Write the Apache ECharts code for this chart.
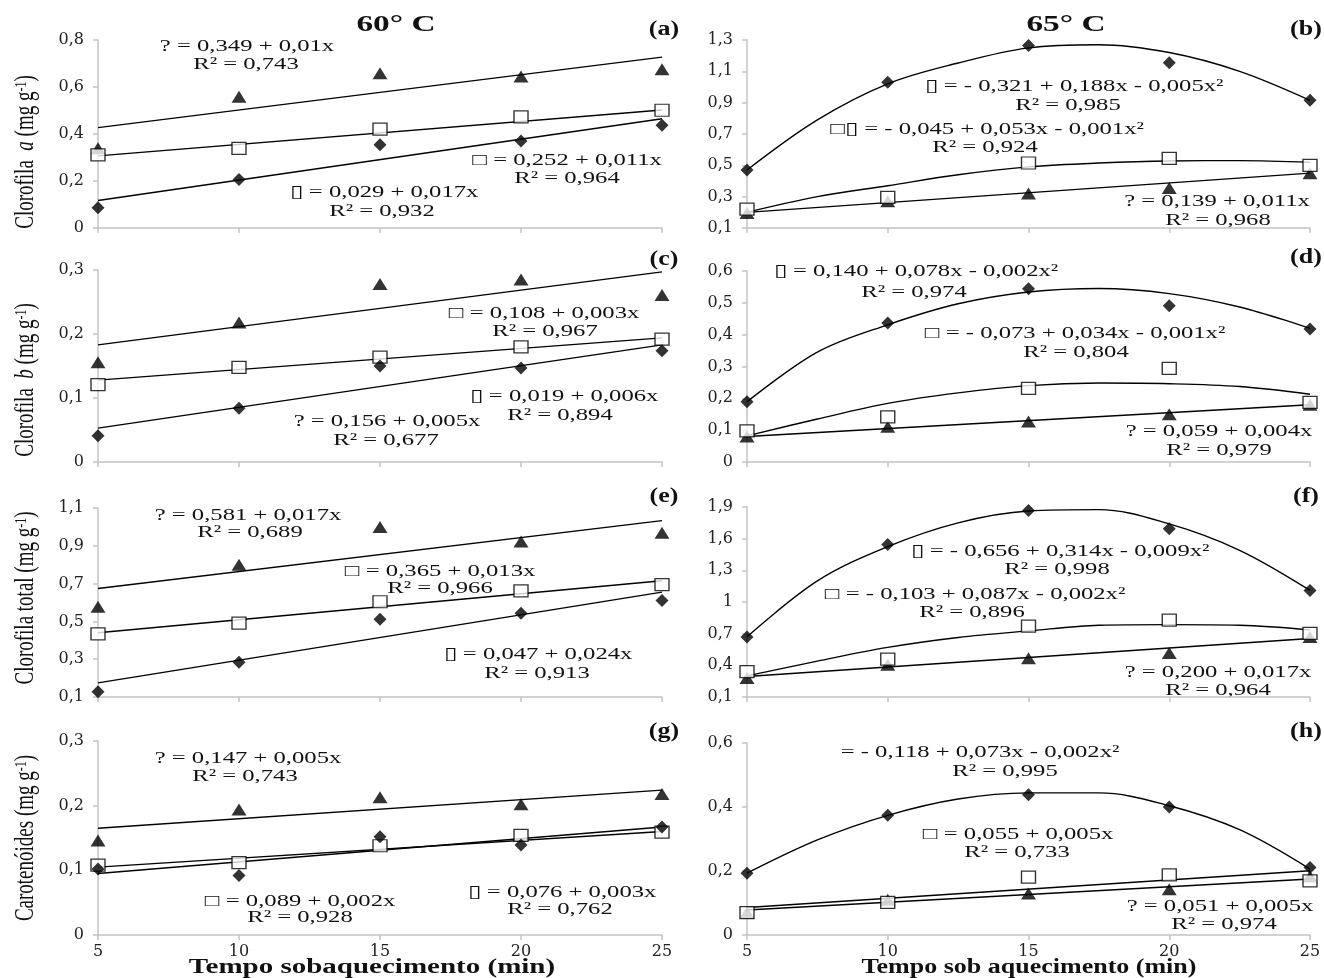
<!DOCTYPE html>
<html>
<head>
<meta charset="utf-8">
<script src="https://cdn.jsdelivr.net/npm/echarts@6/dist/echarts.min.js"></script>
<style>
html, body { margin: 0; padding: 0; background: #fff; }
#container { width: 1324px; height: 978px; }
</style>
</head>
<body>
<div id="container"></div>
<script>
// tempo (min)
var xValues = [5, 10, 15, 20, 25];
var lineX = [5, 25];
var curveX = [5, 7.5, 10, 12.5, 15, 17.5, 20, 22.5, 25];

// (a) clorofila a, 60 C
var aTicks = [0, 0.2, 0.4, 0.6, 0.8];
var aDiamond = [0.086, 0.206, 0.354, 0.370, 0.437];
var aSquare = [0.311, 0.339, 0.421, 0.473, 0.501];
var aTriangle = [0.339, 0.558, 0.659, 0.645, 0.676];
var aFitDiamond = [0.117, 0.465];
var aFitSquare = [0.307, 0.502];
var aFitTriangle = [0.427, 0.727];

// (b) clorofila a, 65 C
var bTicks = [0.1, 0.3, 0.5, 0.7, 0.9, 1.1, 1.3];
var bDiamond = [0.47, 1.03, 1.265, 1.155, 0.915];
var bSquare = [0.22, 0.295, 0.515, 0.545, 0.50];
var bTriangle = [0.195, 0.27, 0.32, 0.355, 0.45];
var bFitDiamond = [0.47, 0.79, 1.02, 1.153, 1.25, 1.27, 1.22, 1.10, 0.915];
var bFitSquare = [0.20, 0.30, 0.37, 0.44, 0.49, 0.515, 0.528, 0.53, 0.52];
var bFitTriangle = [0.20, 0.45];

// (c) clorofila b, 60 C
var cTicks = [0, 0.1, 0.2, 0.3];
var cDiamond = [0.041, 0.084, 0.150, 0.147, 0.174];
var cSquare = [0.121, 0.148, 0.164, 0.180, 0.192];
var cTriangle = [0.156, 0.218, 0.278, 0.285, 0.261];
var cFitDiamond = [0.053, 0.183];
var cFitSquare = [0.128, 0.194];
var cFitTriangle = [0.183, 0.297];

// (d) clorofila b, 65 C
var dTicks = [0, 0.1, 0.2, 0.3, 0.4, 0.5, 0.6];
var dDiamond = [0.189, 0.437, 0.544, 0.491, 0.418];
var dSquare = [0.098, 0.142, 0.231, 0.294, 0.187];
var dTriangle = [0.080, 0.111, 0.127, 0.150, 0.180];
var dFitDiamond = [0.189, 0.345, 0.431, 0.497, 0.534, 0.545, 0.529, 0.487, 0.420];
var dFitSquare = [0.082, 0.135, 0.184, 0.217, 0.240, 0.248, 0.246, 0.237, 0.213];
var dFitTriangle = [0.080, 0.180];

// (e) clorofila total, 60 C
var eTicks = [0.1, 0.3, 0.5, 0.7, 0.9, 1.1];
var eDiamond = [0.128, 0.284, 0.512, 0.543, 0.610];
var eSquare = [0.434, 0.491, 0.604, 0.662, 0.695];
var eTriangle = [0.578, 0.800, 1.000, 0.923, 0.969];
var eFitDiamond = [0.175, 0.655];
var eFitSquare = [0.440, 0.715];
var eFitTriangle = [0.674, 1.033];

// (f) clorofila total, 65 C
var fTicks = [0.1, 0.4, 0.7, 1, 1.3, 1.6, 1.9];
var fDiamond = [0.669, 1.544, 1.866, 1.694, 1.109];
var fSquare = [0.341, 0.459, 0.772, 0.828, 0.703];
var fTriangle = [0.281, 0.406, 0.466, 0.516, 0.669];
var fFitDiamond = [0.67, 1.20, 1.525, 1.75, 1.862, 1.875, 1.74, 1.49, 1.11];
var fFitSquare = [0.30, 0.44, 0.57, 0.664, 0.726, 0.78, 0.786, 0.78, 0.736];
var fFitTriangle = [0.294, 0.654];

// (g) carotenoides, 60 C
var gTicks = [0, 0.1, 0.2, 0.3];
var gDiamond = [0.102, 0.092, 0.152, 0.139, 0.167];
var gSquare = [0.108, 0.112, 0.138, 0.154, 0.159];
var gTriangle = [0.146, 0.194, 0.213, 0.202, 0.218];
var gFitDiamond = [0.095, 0.167];
var gFitSquare = [0.105, 0.160];
var gFitTriangle = [0.165, 0.224];

// (h) carotenoides, 65 C
var hTicks = [0, 0.2, 0.4, 0.6];
var hDiamond = [0.193, 0.374, 0.438, 0.400, 0.211];
var hSquare = [0.070, 0.102, 0.181, 0.188, 0.169];
var hTriangle = [0.070, 0.110, 0.130, 0.143, 0.183];
var hFitDiamond = [0.193, 0.297, 0.374, 0.425, 0.444, 0.444, 0.404, 0.329, 0.206];
var hFitSquare = [0.086, 0.201];
var hFitTriangle = [0.078, 0.175];

var panels = [
    {grid: {left: 98, top: 40, width: 564, height: 188}, ticks: aTicks, d: aDiamond, s: aSquare, t: aTriangle, fd: [lineX, aFitDiamond], fs: [lineX, aFitSquare], ft: [lineX, aFitTriangle]},
    {grid: {left: 747, top: 40, width: 563, height: 188}, ticks: bTicks, d: bDiamond, s: bSquare, t: bTriangle, fd: [curveX, bFitDiamond], fs: [curveX, bFitSquare], ft: [lineX, bFitTriangle]},
    {grid: {left: 98, top: 270, width: 564, height: 192}, ticks: cTicks, d: cDiamond, s: cSquare, t: cTriangle, fd: [lineX, cFitDiamond], fs: [lineX, cFitSquare], ft: [lineX, cFitTriangle]},
    {grid: {left: 747, top: 271, width: 563, height: 191}, ticks: dTicks, d: dDiamond, s: dSquare, t: dTriangle, fd: [curveX, dFitDiamond], fs: [curveX, dFitSquare], ft: [lineX, dFitTriangle]},
    {grid: {left: 98, top: 508, width: 564, height: 189}, ticks: eTicks, d: eDiamond, s: eSquare, t: eTriangle, fd: [lineX, eFitDiamond], fs: [lineX, eFitSquare], ft: [lineX, eFitTriangle]},
    {grid: {left: 747, top: 507, width: 563, height: 190}, ticks: fTicks, d: fDiamond, s: fSquare, t: fTriangle, fd: [curveX, fFitDiamond], fs: [curveX, fFitSquare], ft: [lineX, fFitTriangle]},
    {grid: {left: 98, top: 741, width: 564, height: 194}, ticks: gTicks, d: gDiamond, s: gSquare, t: gTriangle, fd: [lineX, gFitDiamond], fs: [lineX, gFitSquare], ft: [lineX, gFitTriangle]},
    {grid: {left: 747, top: 743, width: 563, height: 192}, ticks: hTicks, d: hDiamond, s: hSquare, t: hTriangle, fd: [curveX, hFitDiamond], fs: [lineX, hFitSquare], ft: [lineX, hFitTriangle]}
];

// equacoes e R2, [texto, x, y]
var eqLabels = [
    ['? = 0,349 + 0,01x', 247, 47], ['R² = 0,743', 246, 65],
    ['□ = 0,252 + 0,011x', 567, 161], ['R² = 0,964', 567, 179],
    ['▯ = 0,029 + 0,017x', 384, 193], ['R² = 0,932', 382, 212],
    ['▯ = - 0,321 + 0,188x - 0,005x²', 1074, 87], ['R² = 0,985', 1068, 106],
    ['□▯ = - 0,045 + 0,053x - 0,001x²', 987, 130], ['R² = 0,924', 985, 148],
    ['? = 0,139 + 0,011x', 1217, 202], ['R² = 0,968', 1218, 221],
    ['□ = 0,108 + 0,003x', 544, 314], ['R² = 0,967', 545, 332],
    ['▯ = 0,019 + 0,006x', 564, 397], ['R² = 0,894', 560, 416],
    ['? = 0,156 + 0,005x', 387, 422], ['R² = 0,677', 386, 441],
    ['▯ = 0,140 + 0,078x - 0,002x²', 916, 272], ['R² = 0,974', 914, 293],
    ['□ = - 0,073 + 0,034x - 0,001x²', 1075, 334], ['R² = 0,804', 1076, 353],
    ['? = 0,059 + 0,004x', 1219, 432], ['R² = 0,979', 1219, 451],
    ['? = 0,581 + 0,017x', 248, 516], ['R² = 0,689', 250, 533],
    ['□ = 0,365 + 0,013x', 440, 572], ['R² = 0,966', 440, 589],
    ['▯ = 0,047 + 0,024x', 538, 655], ['R² = 0,913', 537, 674],
    ['▯ = - 0,656 + 0,314x - 0,009x²', 1060, 552], ['R² = 0,998', 1057, 570],
    ['□ = - 0,103 + 0,087x - 0,002x²', 975, 595], ['R² = 0,896', 972, 613],
    ['? = 0,200 + 0,017x', 1218, 673], ['R² = 0,964', 1218, 691],
    ['? = 0,147 + 0,005x', 248, 759], ['R² = 0,743', 245, 777],
    ['□ = 0,089 + 0,002x', 300, 902], ['R² = 0,928', 300, 918],
    ['▯ = 0,076 + 0,003x', 562, 893], ['R² = 0,762', 560, 910],
    ['= - 0,118 + 0,073x - 0,002x²', 980, 753], ['R² = 0,995', 1005, 772],
    ['□ = 0,055 + 0,005x', 1018, 835], ['R² = 0,733', 1017, 853],
    ['? = 0,051 + 0,005x', 1220, 907], ['R² = 0,974', 1224, 925]
];

var serif = '"Liberation Serif", "Times New Roman", serif';
var STRETCH = 1.45;

function zip(xs, ys) {
    return ys.map(function (y, i) { return [xs[i], y]; });
}
function fmt(v) {
    return String(+(+v).toFixed(2)).replace('.', ',');
}
function txt(x, y, text, font, sx) {
    return {
        type: 'text', x: x, y: y, scaleX: sx || STRETCH, silent: true,
        style: {text: text, font: font, fill: '#111', align: 'center', verticalAlign: 'middle'}
    };
}
function ytitle(x, y, text) {
    return {
        type: 'text', x: x, y: y, rotation: Math.PI / 2, scaleY: STRETCH, silent: true,
        style: {
            text: text, fill: '#111', align: 'center', verticalAlign: 'middle',
            rich: {
                n: {font: '19px ' + serif},
                i: {font: 'italic 19px ' + serif},
                s: {font: '12px ' + serif, verticalAlign: 'top'}
            }
        }
    };
}

var grids = [], xAxes = [], yAxes = [], series = [];
var axisColor = '#c4c4c4';
panels.forEach(function (p, i) {
    var bottom = i >= 6;
    grids.push(p.grid);
    xAxes.push({
        type: 'value', gridIndex: i, min: 5, max: 25, interval: 5,
        axisLine: {lineStyle: {color: axisColor, width: 1.5}},
        axisTick: {show: true, length: 5, lineStyle: {color: axisColor, width: 1.5}},
        axisLabel: {show: bottom, fontFamily: 'DejaVu Serif', fontSize: 16, color: '#222', margin: 9},
        splitLine: {show: false}
    });
    yAxes.push({
        type: 'value', gridIndex: i, min: p.ticks[0], max: p.ticks[p.ticks.length - 1],
        axisLine: {show: true, lineStyle: {color: axisColor, width: 1.5}},
        axisTick: {show: true, length: 5, customValues: p.ticks, lineStyle: {color: axisColor, width: 1.5}},
        axisLabel: {customValues: p.ticks, formatter: fmt, fontFamily: 'DejaVu Serif', fontSize: 16, color: '#222', margin: 14},
        splitLine: {show: false}
    });
    [p.fd, p.fs, p.ft].forEach(function (f) {
        series.push({
            type: 'line', xAxisIndex: i, yAxisIndex: i, data: zip(f[0], f[1]),
            symbol: 'none', smooth: f[0].length > 2 ? 0.35 : false, silent: true, z: 2,
            lineStyle: {color: '#000', width: 1.4}
        });
    });
    series.push({
        type: 'scatter', xAxisIndex: i, yAxisIndex: i, data: zip(xValues, p.t),
        symbol: 'triangle', symbolSize: [15, 12], itemStyle: {color: '#000'}, z: 4
    });
    series.push({
        type: 'scatter', xAxisIndex: i, yAxisIndex: i, data: zip(xValues, p.s),
        symbol: 'rect', symbolSize: [14, 12], itemStyle: {color: '#fff', borderColor: '#000', borderWidth: 1.3}, z: 5
    });
    series.push({
        type: 'scatter', xAxisIndex: i, yAxisIndex: i, data: zip(xValues, p.d),
        symbol: 'diamond', symbolSize: [13, 13], itemStyle: {color: '#000'}, z: 6
    });
});

var graphics = [
    txt(396, 25, '60° C', 'bold 23px ' + serif),
    txt(1066, 25, '65° C', 'bold 23px ' + serif),
    txt(664, 30, '(a)', 'bold 20px ' + serif, 1.3),
    txt(1306, 30, '(b)', 'bold 20px ' + serif, 1.3),
    txt(664, 260, '(c)', 'bold 20px ' + serif, 1.3),
    txt(1306, 258, '(d)', 'bold 20px ' + serif, 1.3),
    txt(664, 497, '(e)', 'bold 20px ' + serif, 1.3),
    txt(1306, 497, '(f)', 'bold 20px ' + serif, 1.3),
    txt(664, 732, '(g)', 'bold 20px ' + serif, 1.3),
    txt(1306, 732, '(h)', 'bold 20px ' + serif, 1.3),
    txt(372, 968, 'Tempo sobaquecimento (min)', 'bold 20px ' + serif, 1.45),
    txt(1029, 968, 'Tempo sob aquecimento (min)', 'bold 20px ' + serif, 1.3),
    ytitle(26, 152, '{n|Clorofila  }{i|a}{n| (mg g}{s|-1}{n|)}'),
    ytitle(26, 380, '{n|Clorofila  }{i|b}{n| (mg g}{s|-1}{n|)}'),
    ytitle(26, 598, '{n|Clorofila total (mg g}{s|-1}{n|)}'),
    ytitle(26, 838, '{n|Carotenóides (mg g}{s|-1}{n|)}')
];
eqLabels.forEach(function (e) {
    graphics.push(txt(e[1], e[2], e[0], '17px ' + serif));
});

var myChart = echarts.init(document.getElementById('container'));
var option = {
    animation: false,
    backgroundColor: '#fff',
    grid: grids,
    xAxis: xAxes,
    yAxis: yAxes,
    series: series,
    graphic: graphics
};
myChart.setOption(option, true);
</script>
</body>
</html>
